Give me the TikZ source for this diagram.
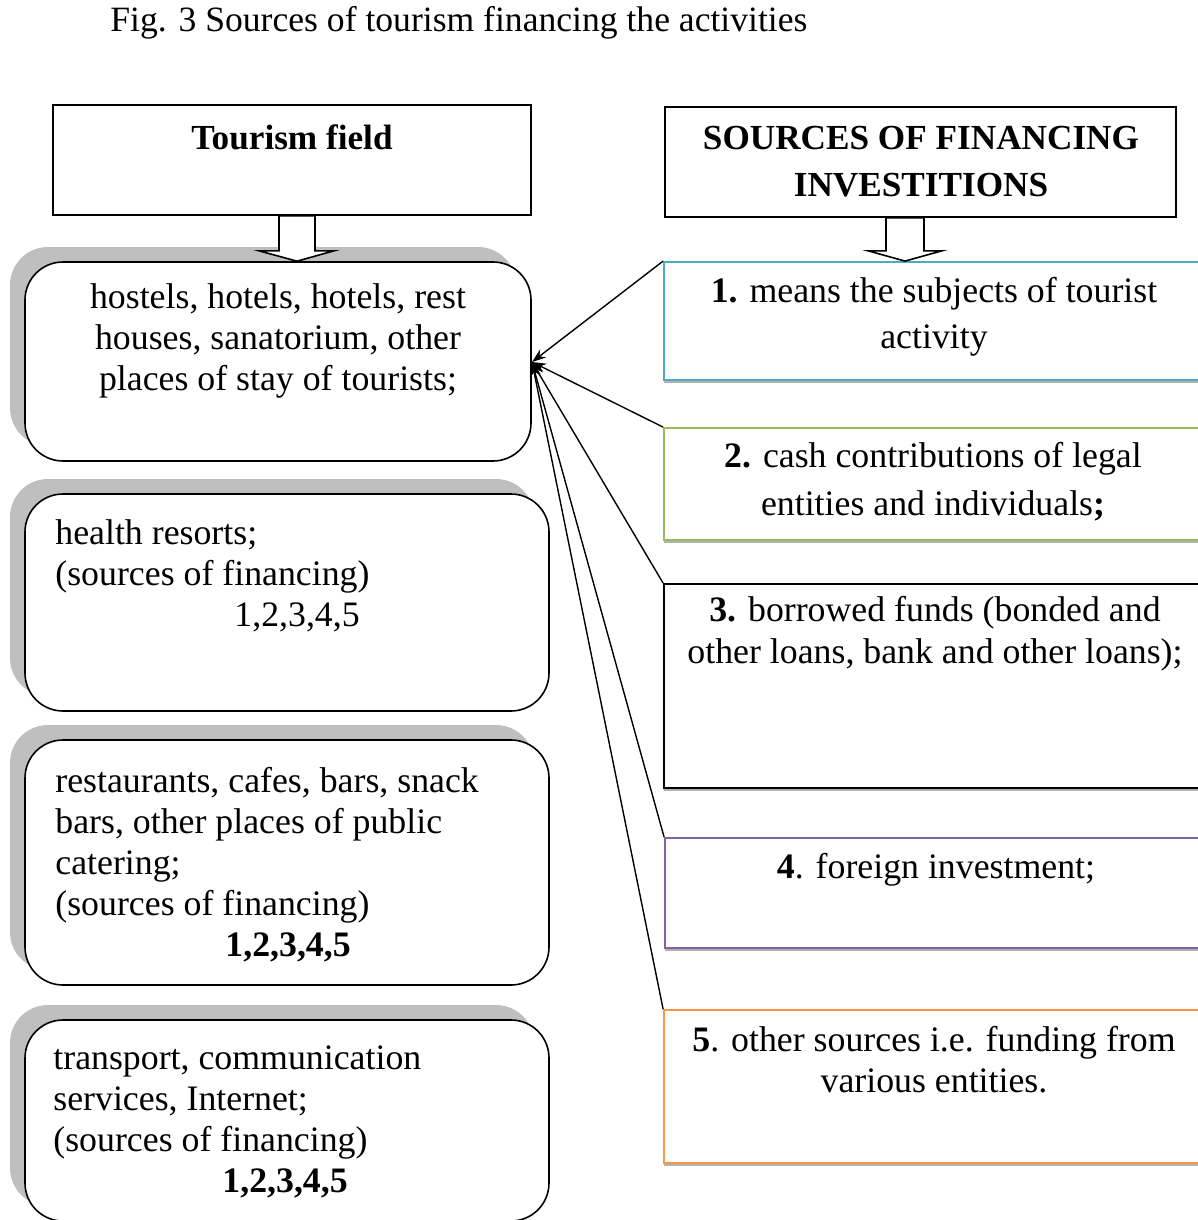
\documentclass[tikz,border=0pt]{standalone}
\usepackage{fontspec}
\setmainfont{Liberation Serif}
\usetikzlibrary{arrows.meta,shadows,calc}

\tikzset{
  head/.style={draw, line width=0.8pt, inner sep=0pt, minimum height=55pt},
  field/.style={draw, line width=0.8pt, rounded corners=19pt, fill=white, inner sep=0pt,
    drop shadow={shadow xshift=-7.5pt, shadow yshift=7.5pt, fill=black!25, opacity=1}},
  source/.style={draw=#1, line width=0.9pt, fill=white, inner sep=0pt, minimum width=273pt,
    drop shadow={shadow xshift=0pt, shadow yshift=-1.5pt, fill=black!30, opacity=1}},
  txt/.style={inner sep=0pt, font=\fontsize{17.9}{20.5}\selectfont},
  blockarrow/.style={draw, line width=0.8pt, fill=white},
}
\definecolor{srcblue}{RGB}{75,172,198}
\definecolor{srcgreen}{RGB}{155,187,89}
\definecolor{srcpurple}{RGB}{128,100,162}
\definecolor{srcorange}{RGB}{247,150,70}

\begin{document}
\begin{tikzpicture}[x=0.5pt,y=-0.5pt]
  \useasboundingbox (0,0) rectangle (1198,1220);
  \node (title) [txt, anchor=west, font=\fontsize{17.8}{20}\selectfont] at (110,23) {Fig. 3 Sources of tourism financing the activities};

  % headers
  \node (tf) [head, minimum width=239pt] at (292,160) {};
  \node (sf) [head, minimum width=255.5pt] at (920.5,162) {};
  \node (tftext) [txt, font=\fontsize{17.6}{20.5}\selectfont\bfseries] at (292,137) {Tourism field};
  \node (sftext) [txt, align=center, font=\fontsize{17.6}{23.5}\selectfont\bfseries] at (921,162) {SOURCES OF FINANCING\\INVESTITIONS};

  % tourism field boxes
  \node (f1) [field, minimum width=253pt, minimum height=99.5pt] at (278,361.5) {};
  \node (f2) [field, minimum width=262pt, minimum height=108.5pt] at (287,602.5) {};
  \node (f3) [field, minimum width=262pt, minimum height=122.5pt] at (287,862.5) {};
  \node (f4) [field, minimum width=262pt, minimum height=100.5pt] at (287,1120.5) {};
  \node (f1text) [txt, align=center] at (278,341) {hostels, hotels, hotels, rest\\houses, sanatorium, other\\places of stay of tourists;};
  \node (f2text) [txt, align=left, anchor=west] at (55,576) {health resorts;\\(sources of financing)\\\hspace*{89.5pt}1,2,3,4,5};
  \node (f3text) [txt, align=left, anchor=west] at (55,865) {restaurants, cafes, bars, snack\\bars, other places of public\\catering;\\(sources of financing)\\\hspace*{85pt}\textbf{1,2,3,4,5}};
  \node (f4text) [txt, align=left, anchor=west] at (53,1122) {transport, communication\\services, Internet;\\(sources of financing)\\\hspace*{84.5pt}\textbf{1,2,3,4,5}};

  % sources boxes
  \node (r1) [source=srcblue, minimum height=59pt] at (937,321) {};
  \node (r2) [source=srcgreen, minimum height=56pt] at (937,484) {};
  \node (r3) [source=black, minimum height=102pt] at (937,686) {};
  \node (r4) [source=srcpurple, minimum height=55pt] at (938,893) {};
  \node (r5) [source=srcorange, minimum height=76.5pt] at (937,1086.5) {};
  \node (r1text) [txt, align=center, font=\fontsize{17.9}{23}\selectfont] at (934,317) {\textbf{1.} means the subjects of tourist\\activity};
  \node (r2text) [txt, align=center, font=\fontsize{17.9}{24}\selectfont] at (933,482) {\textbf{2.} cash contributions of legal\\entities and individuals\textbf{;}};
  \node (r3text) [txt, align=center, font=\fontsize{17.9}{21}\selectfont] at (935,634) {\textbf{3.} borrowed funds (bonded and\\other loans, bank and other loans);};
  \node (r4text) [txt] at (936,870) {\textbf{4}. foreign investment;};
  \node (r5text) [txt, align=center] at (934,1060) {\textbf{5}. other sources i.e. funding from\\various entities.};

  % block arrows under the headers
  \draw [blockarrow] ($(tf.south)+(-13,0)$) -- ++(0,35) -- ++(-20,0) -- ($(f1.north)+(19,0)$)
    -- ($(tf.south)+(42,35)$) -- ++(-19,0) -- ($(tf.south)+(23,0)$) -- cycle;
  \draw [blockarrow] ($(sf.south)+(-34.5,0)$) -- ++(0,33) -- ++(-18,0) -- ($(r1.north)+(-32,0)$)
    -- ($(sf.south)+(21.5,33)$) -- ++(-18,0) -- ($(sf.south)+(3.5,0)$) -- cycle;

  % sources to the first field
  \coordinate (meet) at (532,362);
  \draw [-{Stealth[length=7pt,width=5pt]}, line width=0.7pt] (r1.north west) -- (meet);
  \draw [-{Stealth[length=7pt,width=5pt]}, line width=0.7pt] (r2.north west) -- (meet);
  \draw [-{Stealth[length=7pt,width=5pt]}, line width=0.7pt] (r3.north west) -- (meet);
  \draw [-{Stealth[length=7pt,width=5pt]}, line width=0.7pt] (r4.north west) -- (meet);
  \draw [-{Stealth[length=7pt,width=5pt]}, line width=0.7pt] (r5.north west) -- (meet);
\end{tikzpicture}
\end{document}
